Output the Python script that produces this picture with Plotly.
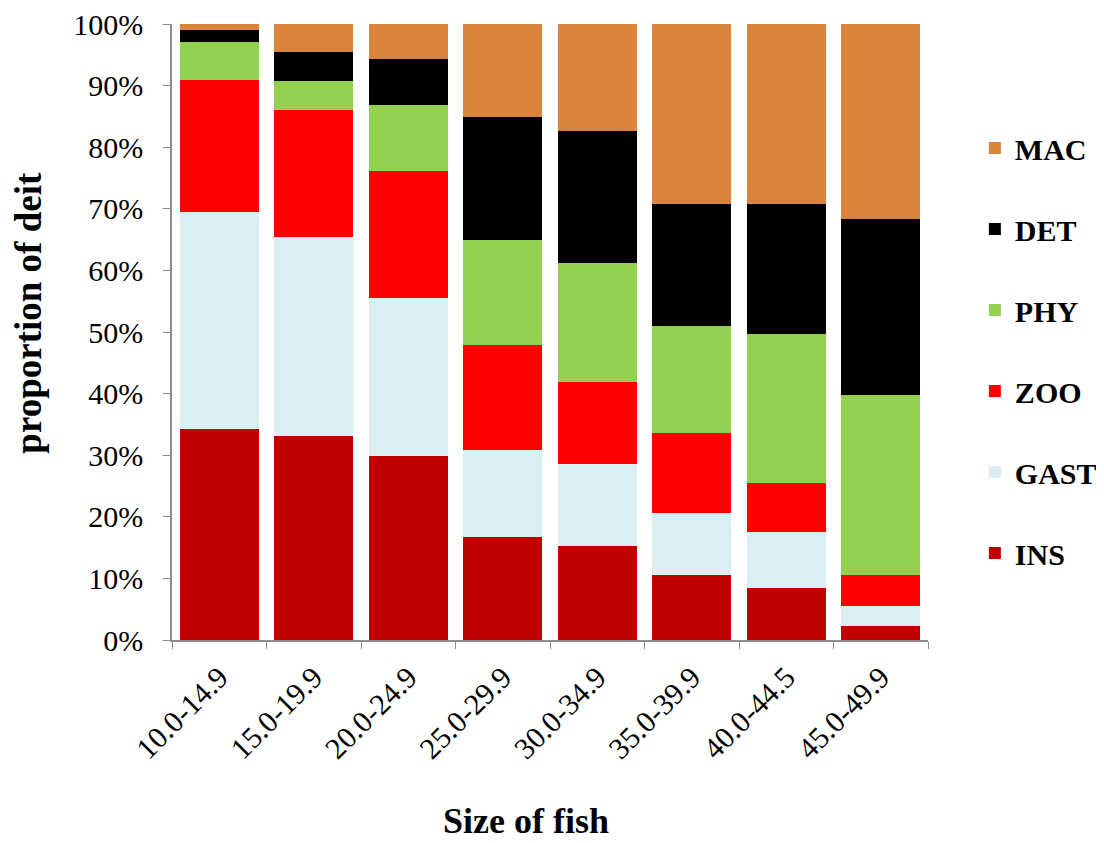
import plotly.graph_objects as go

categories = ["10.0-14.9", "15.0-19.9", "20.0-24.9", "25.0-29.9",
              "30.0-34.9", "35.0-39.9", "40.0-44.5", "45.0-49.9"]

INS  = [34.2, 33.1, 29.8, 16.7, 15.3, 10.6, 8.5, 2.2]
GAST = [35.3, 32.3, 25.8, 14.2, 13.3, 10.0, 9.1, 3.4]
ZOO  = [21.4, 20.7, 20.6, 17.0, 13.3, 13.0, 7.9, 4.9]
PHY  = [6.2, 4.6, 10.6, 17.1, 19.3, 17.3, 24.2, 29.3]
DET  = [2.0, 4.8, 7.5, 19.9, 21.4, 19.8, 21.1, 28.5]
MAC  = [0.9, 4.5, 5.7, 15.1, 17.4, 29.3, 29.2, 31.7]

series = [("INS", INS, "#C00000"), ("GAST", GAST, "#DAEEF3"),
          ("ZOO", ZOO, "#FF0000"), ("PHY", PHY, "#92D050"),
          ("DET", DET, "#000000"), ("MAC", MAC, "#DB843D")]

FONT = "Liberation Serif, Times New Roman, serif"

fig = go.Figure()
n = len(series)
for i, (name, vals, col) in enumerate(series):
    fig.add_trace(go.Bar(x=categories, y=vals, name="<b>" + name + "</b>",
                         legendgroup=name, legendrank=n - i,
                         marker=dict(color=col, line=dict(width=0))))

fig.update_layout(
    barmode="stack",
    bargap=0.165,
    width=1104, height=843,
    margin=dict(l=164, r=184, t=16, b=211, autoexpand=False),
    paper_bgcolor="white", plot_bgcolor="white",
    font=dict(family=FONT, color="black", size=28),
    legend=dict(x=1.062, y=0.47, xanchor="left", yanchor="middle",
                traceorder="grouped", tracegroupgap=39,
                font=dict(family=FONT, size=30, color="black"),
                itemwidth=30),
    showlegend=True,
    annotations=[
        dict(text="<b>Size of fish</b>", xref="paper", yref="paper",
             x=0.468, y=-0.294, xanchor="center", yanchor="middle",
             showarrow=False, font=dict(family=FONT, size=36, color="black")),
        dict(text="<b>proportion of deit</b>", xref="paper", yref="paper",
             x=-0.19, y=0.532, xanchor="center", yanchor="middle",
             textangle=-90, showarrow=False,
             font=dict(family=FONT, size=37, color="black")),
    ],
)
fig.update_xaxes(
    showline=True, linecolor="#8C8C8C", linewidth=1.5,
    ticks="outside", tickson="boundaries", ticklen=7, tickcolor="#8C8C8C",
    tickangle=-45, tickfont=dict(family=FONT, size=30),
    ticklabelstandoff=6, automargin=False,
)
fig.update_yaxes(
    range=[0, 100.001], tickvals=[0, 10, 20, 30, 40, 50, 60, 70, 80, 90, 100],
    ticktext=["0%", "10%", "20%", "30%", "40%", "50%", "60%", "70%", "80%", "90%", "100%"],
    showline=True, linecolor="#8C8C8C", linewidth=1.5,
    ticks="outside", ticklen=7, tickcolor="#8C8C8C",
    showgrid=False, zeroline=False,
    tickfont=dict(family=FONT, size=30),
    ticklabelstandoff=14, ticklabeloverflow="allow", automargin=False,
)

fig.write_html("out.html")
